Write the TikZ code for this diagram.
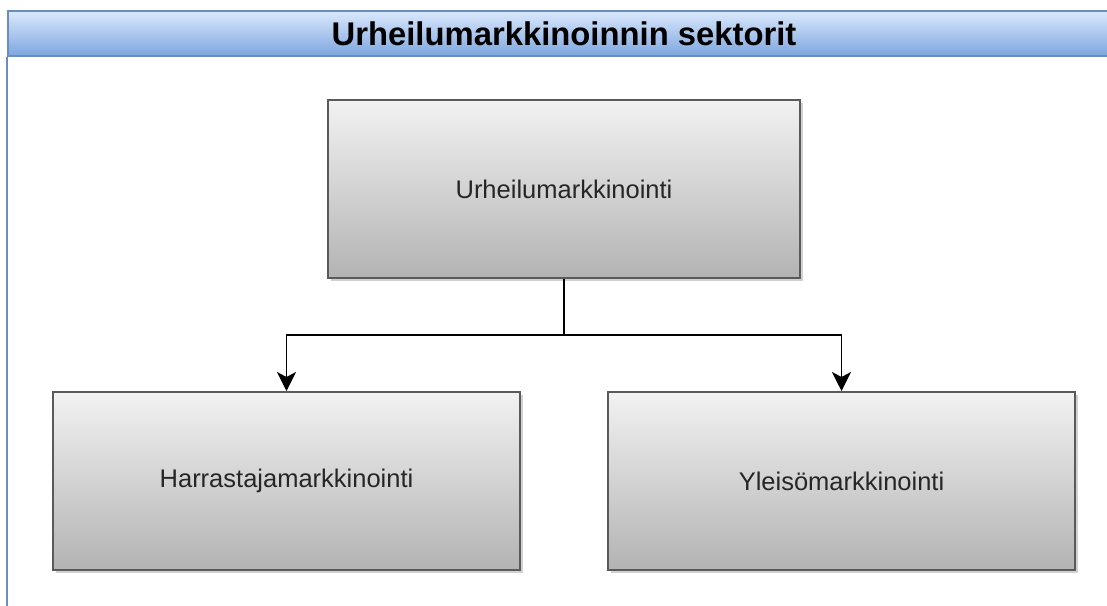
\documentclass[tikz,border=0pt]{standalone}
\usepackage{fontspec}
\setmainfont{Liberation Sans}
\usepackage{xcolor}
\usetikzlibrary{arrows.meta, positioning, shadows}

\definecolor{lanetop}{HTML}{DAE8FC}
\definecolor{lanebot}{HTML}{7EA6E0}
\definecolor{laneline}{HTML}{6C8EBF}
\definecolor{boxtop}{HTML}{F2F2F2}
\definecolor{boxbot}{HTML}{B3B3B3}
\definecolor{boxline}{HTML}{5A5A5A}

\begin{document}
\begin{tikzpicture}[
    x=1pt, y=1pt,
    lanehead/.style={rectangle, minimum width=1112pt, minimum height=45pt, inner sep=0pt, draw=laneline, line width=1.5pt, top color=lanetop, bottom color=lanebot, font=\fontsize{32.8}{38}\selectfont\bfseries},
    sectorbox/.style={rectangle, minimum width=467pt, minimum height=178pt, inner sep=0pt, text centered, draw=boxline, line width=2pt, top color=boxtop, bottom color=boxbot, drop shadow={shadow xshift=2.5pt, shadow yshift=-2.5pt, fill=black, opacity=0.18}, font=\fontsize{25.5}{30}\selectfont, text=black!85},
    link/.style={line width=1.8pt, black},
    arrow/.style={link, -{Stealth[length=19pt, width=19pt, inset=5pt]}}
]
    \useasboundingbox (0,0) rectangle (1107,-605);

    \node (lane) [lanehead] at (564,-33.5) {Urheilumarkkinoinnin sektorit};
    \coordinate (laneend) at (lane.south west |- 0,-606);
    \draw [laneline, line width=1.8pt] (lane.south west) -- (laneend);

    \node (urh) [sectorbox, minimum width=472pt] at (564,-189) {Urheilumarkkinointi};
    \node (harr) [sectorbox, below=112pt of urh, xshift=-277.5pt] {Harrastajamarkkinointi};
    \node (yle) [sectorbox, below=112pt of urh, xshift=277.5pt] {Yleisömarkkinointi};

    \coordinate [below=56pt of urh.south] (split);
    \draw [link] (urh) -- (split);
    \draw [arrow] (split) -| (harr);
    \draw [arrow] (split) -| (yle);

\end{tikzpicture}
\end{document}
